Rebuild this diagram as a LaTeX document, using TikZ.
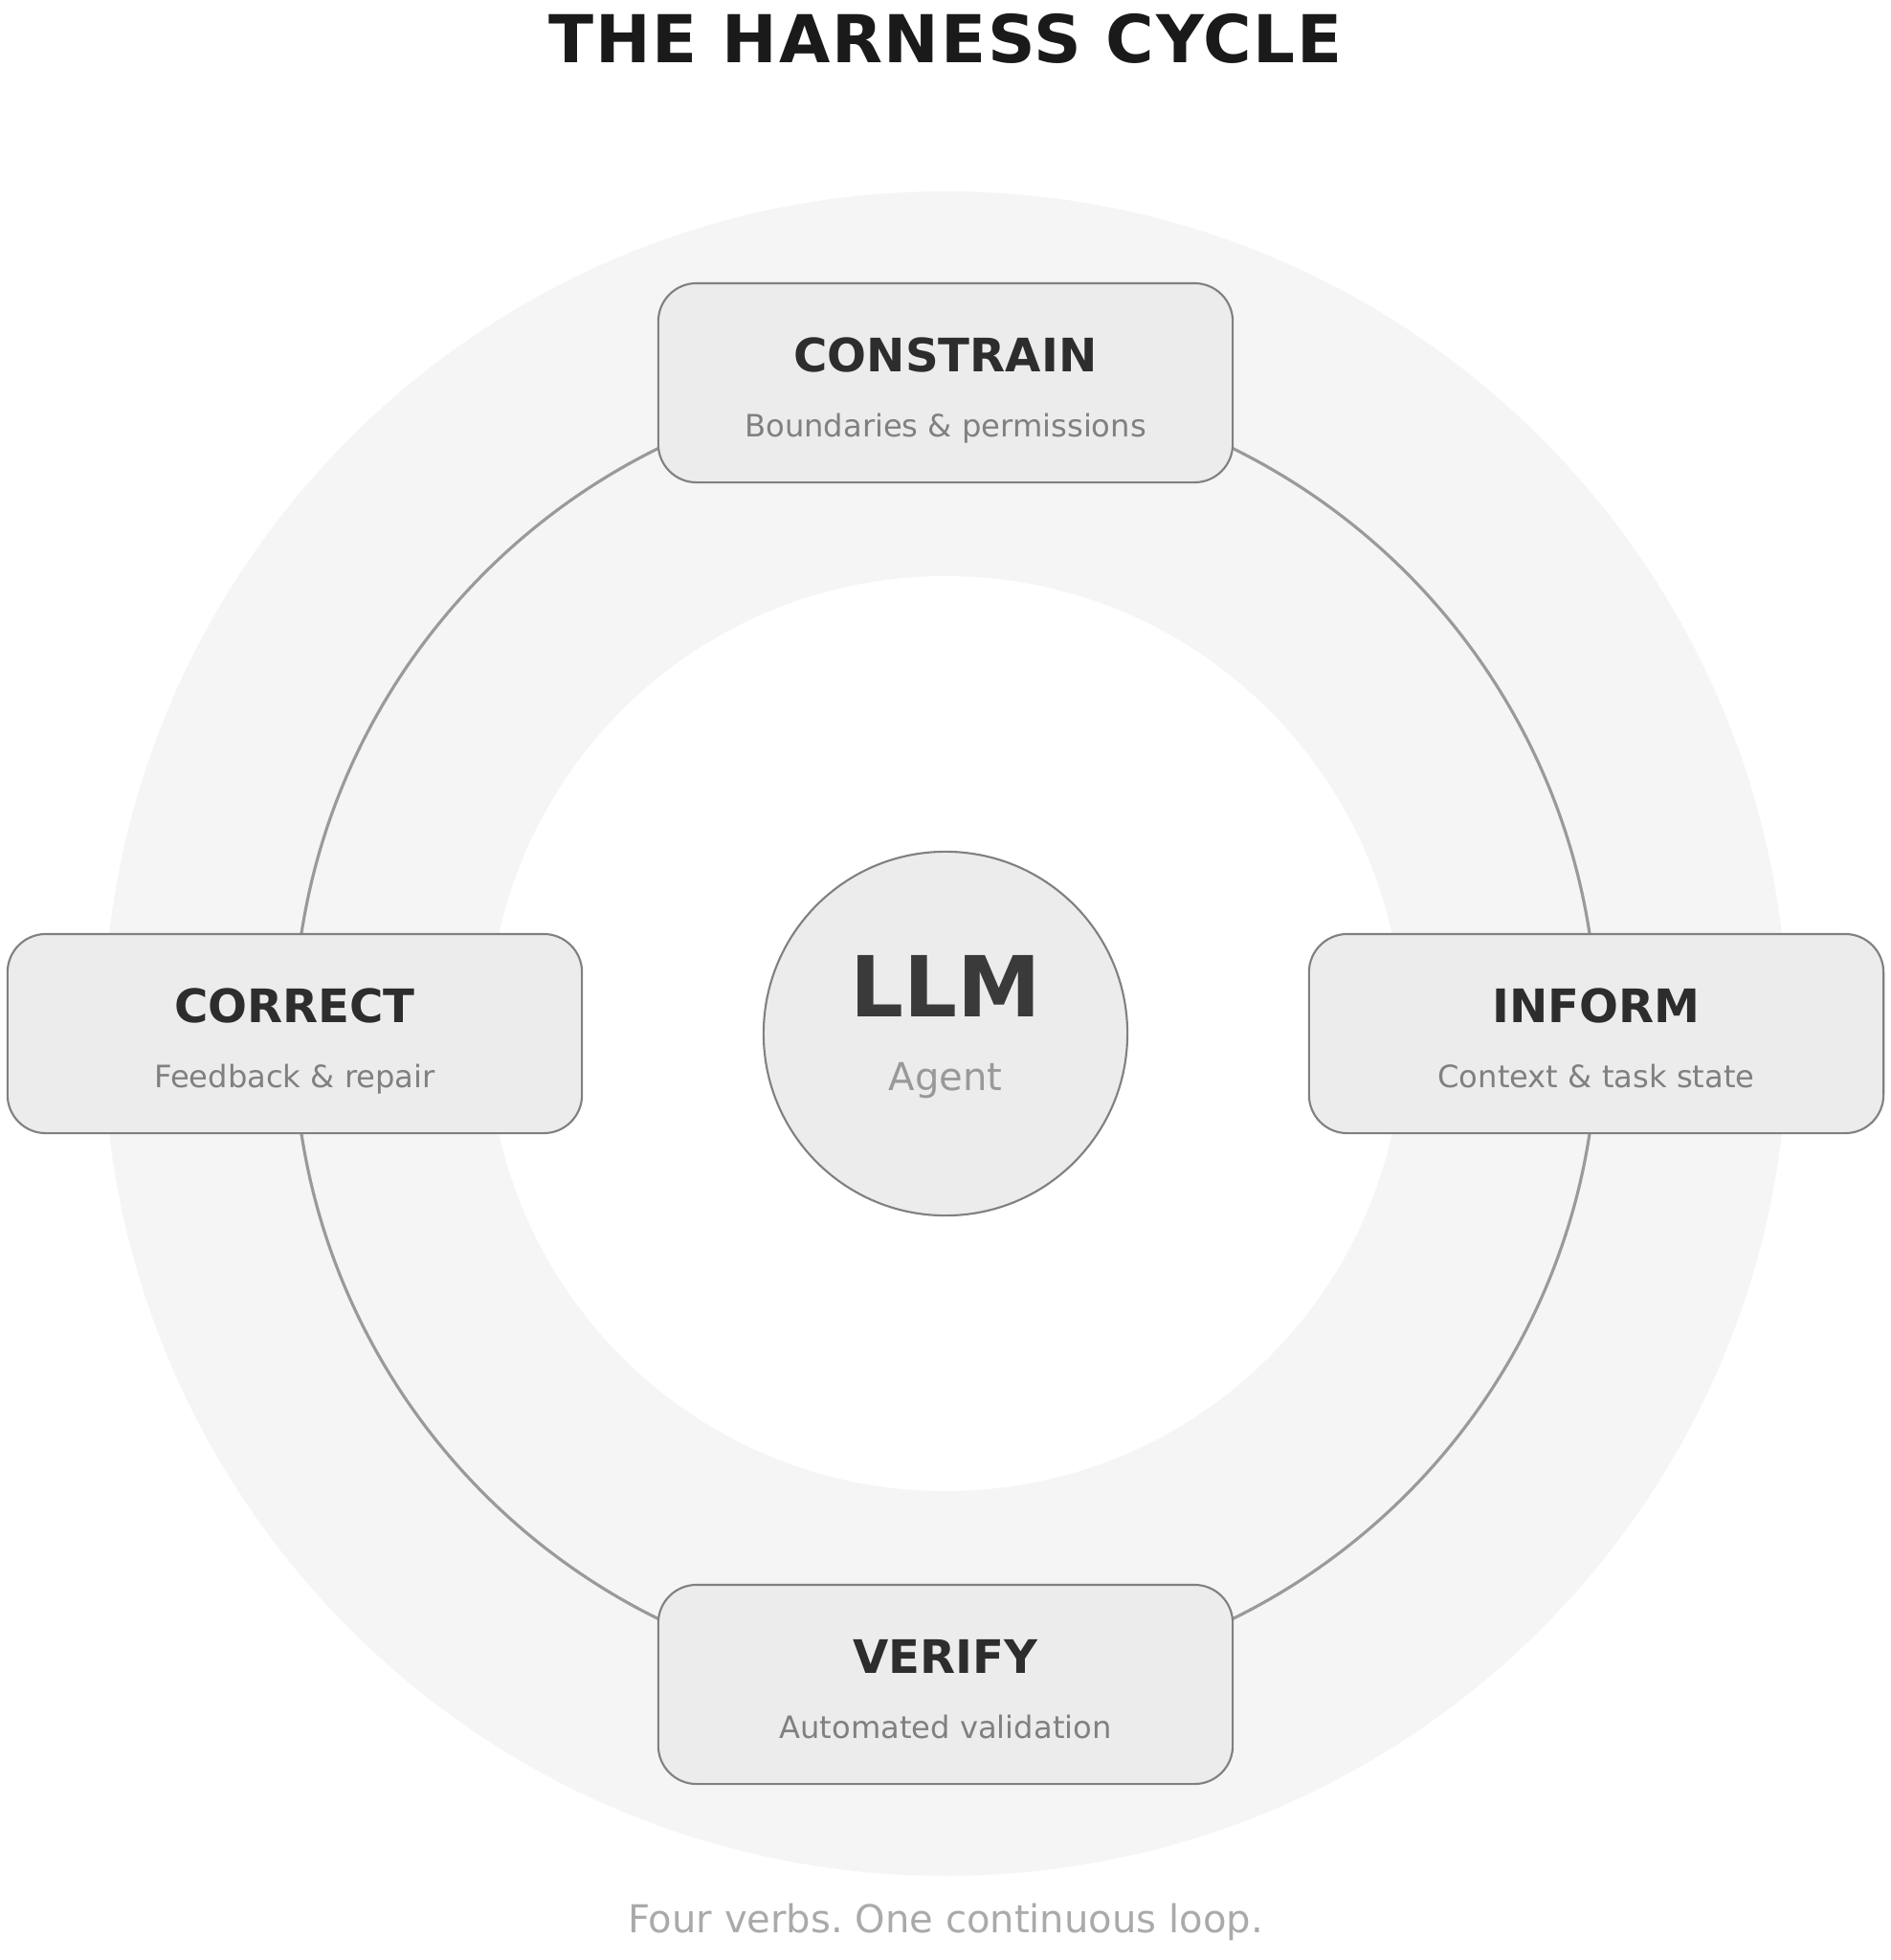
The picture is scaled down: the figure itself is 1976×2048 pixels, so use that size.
\documentclass[tikz,border=0pt]{standalone}
\usepackage{fontspec}
\setmainfont{DejaVu Sans}
\frenchspacing
\usetikzlibrary{
    positioning,
    calc
}
\definecolor{annulus gray}{HTML}{F5F5F5}
\definecolor{box fill}{HTML}{ECECEC}
\definecolor{box line}{HTML}{808080}
\definecolor{ring line}{HTML}{9A9A9A}
\definecolor{title ink}{HTML}{1A1A1A}
\definecolor{verb ink}{HTML}{2D2D2D}
\definecolor{hint ink}{HTML}{808080}
\definecolor{llm ink}{HTML}{3A3A3A}
\definecolor{agent ink}{HTML}{999999}
\definecolor{footer ink}{HTML}{AAAAAA}
\tikzset{
    % Background
    annulus/.style={fill=annulus gray},
    hole/.style={fill=white},
    ring/.style={draw=ring line, line width=0.9pt},
    %
    % Nodes
    stage box/.style={draw=box line, fill=box fill, line width=0.6pt, rounded corners=0.4cm,
        minimum width=6cm, minimum height=2.08cm, inner sep=0pt},
    hub/.style={circle, draw=box line, fill=box fill, line width=0.6pt, minimum size=3.8cm, inner sep=0pt},
    verb/.style={anchor=base, inner sep=0pt, text=verb ink, font=\fontsize{13.7}{16}\selectfont\bfseries},
    hint/.style={anchor=base, inner sep=0pt, text=hint ink, font=\fontsize{9.15}{11}\selectfont},
    %
    % Texts
    heading/.style={anchor=base, inner sep=0pt, text=title ink,
        font=\fontsize{19.6}{24}\selectfont\bfseries\addfontfeature{LetterSpace=2.5}},
    footer/.style={anchor=base, inner sep=0pt, text=footer ink, font=\fontsize{11.4}{14}\selectfont}
}

\begin{document}
\begin{tikzpicture}[x=0.01cm, y=-0.01cm]
    \useasboundingbox[fill=white] (0,0) rectangle (1976,2048);
    \coordinate (center) at (988,1080);

    % grey band and the loop
    \fill[annulus] (center) circle[radius=880];
    \fill[hole] (center) circle[radius=478];
    \draw[ring] (center) circle[radius=681];

    \node[heading] (title) at (988,65) {THE HARNESS CYCLE};

    % the agent
    \node[hub] (llm) at (center) {};
    \node[anchor=base, inner sep=0pt, text=llm ink, font=\fontsize{25}{30}\selectfont\bfseries] (llm name) at ($(llm.center)+(0,-18)$) {LLM};
    \node[anchor=base, inner sep=0pt, text=agent ink, font=\fontsize{11.4}{14}\selectfont] (llm role) at ($(llm.center)+(0,59)$) {Agent};

    % the four verbs
    \node[stage box] (constrain) at ($(center)+(0,-680)$) {};
    \node[stage box] (inform) at ($(center)+(680,0)$) {};
    \node[stage box] (verify) at ($(center)+(0,680)$) {};
    \node[stage box] (correct) at ($(center)+(-680,0)$) {};

    \node[verb] (constrain verb) at ($(constrain.center)+(0,-12)$) {CONSTRAIN};
    \node[hint] (constrain hint) at ($(constrain.center)+(0,56)$) {Boundaries \& permissions};
    \node[verb] (inform verb) at ($(inform.center)+(0,-12)$) {INFORM};
    \node[hint] (inform hint) at ($(inform.center)+(0,56)$) {Context \& task state};
    \node[verb] (verify verb) at ($(verify.center)+(0,-12)$) {VERIFY};
    \node[hint] (verify hint) at ($(verify.center)+(0,56)$) {Automated validation};
    \node[verb] (correct verb) at ($(correct.center)+(0,-12)$) {CORRECT};
    \node[hint] (correct hint) at ($(correct.center)+(0,56)$) {Feedback \& repair};

    \node[footer] (motto) at (988,2019) {Four verbs. One continuous loop.};
\end{tikzpicture}
\end{document}
